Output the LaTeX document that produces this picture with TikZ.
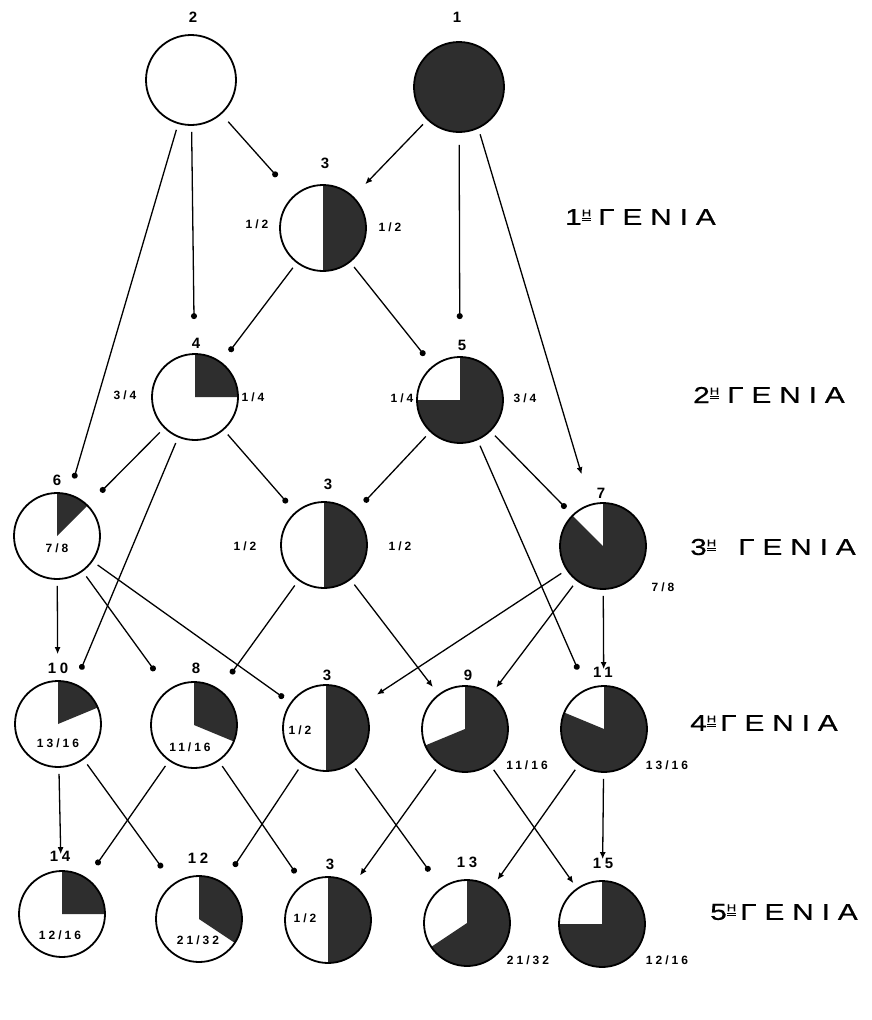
\documentclass[tikz,border=0pt]{standalone}
\usepackage{fontspec}
\setmainfont{Liberation Sans}
\newfontfamily\genfont[FakeStretch=1.3,FakeBold=0.6,LetterSpace=34]{Liberation Sans}
\newfontfamily\numfont[LetterSpace=25]{Liberation Sans}
\usetikzlibrary{arrows.meta}
\definecolor{dk}{gray}{0.18}
\newcommand\supH{\raisebox{0.7ex}{\fontsize{10}{10}\selectfont\underline{\underline{Η}}}}
\tikzset{
  ind/.style={circle, draw=black, line width=1.8pt, minimum size=86pt, inner sep=0pt},
  big/.style={minimum size=90pt},
  pie/.style 2 args={path picture={\fill[dk] (path picture bounding box.center) -- ++(#1:60pt) arc[start angle=#1, end angle=#2, radius=60pt] -- cycle;}},
  num/.style={font=\numfont\bfseries\fontsize{15}{15}\selectfont, inner sep=0pt},
  frac/.style={font=\numfont\bfseries\fontsize{12}{12}\selectfont, inner sep=0pt},
  gennum/.style={font=\genfont\fontsize{23}{23}\selectfont, anchor=west, inner sep=0pt},
  genword/.style={font=\genfont\fontsize{23}{23}\selectfont, anchor=west, inner sep=0pt},
  e/.style={line width=1.3pt, -{Circle[length=6pt]}, shorten <=6pt},
  ea/.style={line width=1.3pt, -{Latex[length=7pt,width=6pt]}, shorten <=6pt},
}
\begin{document}
\begin{tikzpicture}[x=1pt,y=1pt]
\fill[white] (0,0) rectangle (872,-1020);
\useasboundingbox (0,0) rectangle (872,-1020);

% generation 0
\node[ind,big] (n2) at (191,-80) {};
\node[ind,big,fill=dk] (n1) at (459,-87) {};
\node[num] (l2) at (193,-17) {2};
\node[num] (l1) at (457,-17) {1};

% generation 1
\node[ind,pie={90}{-90}] (n3a) at (323,-228) {};
\node[num] (l3a) at (325,-163) {3};
\node[frac] (f3a1) at (257,-224) {1/2};
\node[frac] (f3a2) at (390,-227) {1/2};

% generation 2
\node[ind,pie={90}{0}] (n4) at (195,-397) {};
\node[num] (l4) at (196,-343) {4};
\node[frac] (f41) at (125,-395) {3/4};
\node[frac] (f42) at (253,-397) {1/4};
\node[ind,pie={90}{-180}] (n5) at (460,-400) {};
\node[num] (l5) at (462,-345) {5};
\node[frac] (f51) at (402,-398) {1/4};
\node[frac] (f52) at (525,-398) {3/4};

% generation 3
\node[ind,pie={90}{45}] (n6) at (57,-536) {};
\node[num] (l6) at (57,-480) {6};
\node[frac] (f6) at (57,-548) {7/8};
\node[ind,pie={90}{-90}] (n3b) at (324,-545) {};
\node[num] (l3b) at (328,-484) {3};
\node[frac] (f3b1) at (245,-546) {1/2};
\node[frac] (f3b2) at (400,-546) {1/2};
\node[ind,pie={90}{-225}] (n7) at (603,-546) {};
\node[num] (l7) at (601,-493) {7};
\node[frac] (f7) at (663,-587) {7/8};

% generation 4
\node[ind,pie={90}{22.5}] (n10) at (58,-724) {};
\node[num] (l10) at (58,-668) {10};
\node[frac] (f10) at (58,-743) {13/16};
\node[ind,pie={90}{-22.5}] (n8) at (194,-725) {};
\node[num] (l8) at (196,-668) {8};
\node[frac] (f8) at (190,-747) {11/16};
\node[ind,pie={90}{-90}] (n3c) at (326,-728) {};
\node[num] (l3c) at (327,-675) {3};
\node[frac] (f3c) at (300,-730) {1/2};
\node[ind,pie={90}{-157.5}] (n9) at (465,-729) {};
\node[num] (l9) at (468,-675) {9};
\node[frac] (f9) at (527,-765) {11/16};
\node[ind,pie={90}{-202.5}] (n11) at (604,-729) {};
\node[num] (l11) at (603,-672) {11};
\node[frac] (f11) at (667,-765) {13/16};

% generation 5
\node[ind,pie={90}{0}] (n14) at (62,-914) {};
\node[num] (l14) at (60,-856) {14};
\node[frac] (f14) at (60,-935) {12/16};
\node[ind,pie={90}{-33.75}] (n12) at (199,-919) {};
\node[num] (l12) at (198,-858) {12};
\node[frac] (f12) at (198,-940) {21/32};
\node[ind,pie={90}{-90}] (n3d) at (328,-920) {};
\node[num] (l3d) at (330,-864) {3};
\node[frac] (f3d) at (305,-918) {1/2};
\node[ind,pie={90}{-146.25}] (n13) at (467,-923) {};
\node[num] (l13) at (467,-862) {13};
\node[frac] (f13) at (528,-960) {21/32};
\node[ind,pie={90}{-180}] (n15) at (602,-924) {};
\node[num] (l15) at (603,-863) {15};
\node[frac] (f15) at (667,-960) {12/16};

% generation labels
\node[gennum] (g1n) at (565,-217) {1\supH};
\node[genword] (g1w) at (598,-217) {ΓΕΝΙΑ};
\node[gennum] (g2n) at (693,-395) {2\supH};
\node[genword] (g2w) at (727,-395) {ΓΕΝΙΑ};
\node[gennum] (g3n) at (690,-547) {3\supH};
\node[genword] (g3w) at (738,-547) {ΓΕΝΙΑ};
\node[gennum] (g4n) at (690,-723) {4\supH};
\node[genword] (g4w) at (720,-723) {ΓΕΝΙΑ};
\node[gennum] (g5n) at (710,-912) {5\supH};
\node[genword] (g5w) at (740,-912) {ΓΕΝΙΑ};

% connectors
\draw[e, shorten >=25pt, shorten <=10pt] (n2) -- (n3a);
\draw[e, shorten >=34pt] (n2) -- (n4);
\draw[e, shorten >=16pt] (n2) -- (n6);
\draw[ea, shorten >=17pt] (n1) -- (n3a);
\draw[e, shorten >=37pt, shorten <=12pt] (n1) -- (n5);
\draw[ea, shorten >=31pt] (n1.-65) -- (n7);
\draw[e, shorten >=13pt] (n3a) -- (n4);
\draw[e, shorten >=13pt] (n3a) -- (n5);
\draw[e, shorten >=18pt] (n4) -- (n6);
\draw[e, shorten >=15pt] (n4) -- (n10);
\draw[e, shorten >=12pt] (n4) -- (n3b);
\draw[e, shorten >=15pt] (n5) -- (n3b);
\draw[e, shorten >=9pt] (n5) -- (n7);
\draw[e, shorten >=21pt] (n5) -- (n11);
\draw[ea, shorten >=26pt] (n6) -- (n10);
\draw[e, shorten >=23pt] (n6) -- (n8);
\draw[e, shorten >=8pt] (n6) -- (n3c);
\draw[e, shorten >=19pt] (n3b) -- (n8);
\draw[ea, shorten >=9pt] (n3b) -- (n9);
\draw[ea, shorten >=17pt] (n7) -- (n3c);
\draw[ea, shorten >=8pt] (n7) -- (n9);
\draw[ea, shorten >=16pt] (n7) -- (n11);
\draw[ea, shorten >=16pt] (n10) -- (n14);
\draw[e, shorten >=19pt] (n10) -- (n12);
\draw[e, shorten >=16pt] (n8) -- (n14);
\draw[e, shorten >=13pt] (n8) -- (n3d);
\draw[e, shorten >=19pt] (n3c) -- (n12);
\draw[e, shorten >=20pt] (n3c) -- (n13);
\draw[ea, shorten >=11pt] (n9) -- (n3d);
\draw[ea, shorten >=6pt] (n9) -- (n15);
\draw[ea, shorten >=9pt] (n11) -- (n13);
\draw[ea, shorten >=21pt] (n11) -- (n15);
\end{tikzpicture}
\end{document}
